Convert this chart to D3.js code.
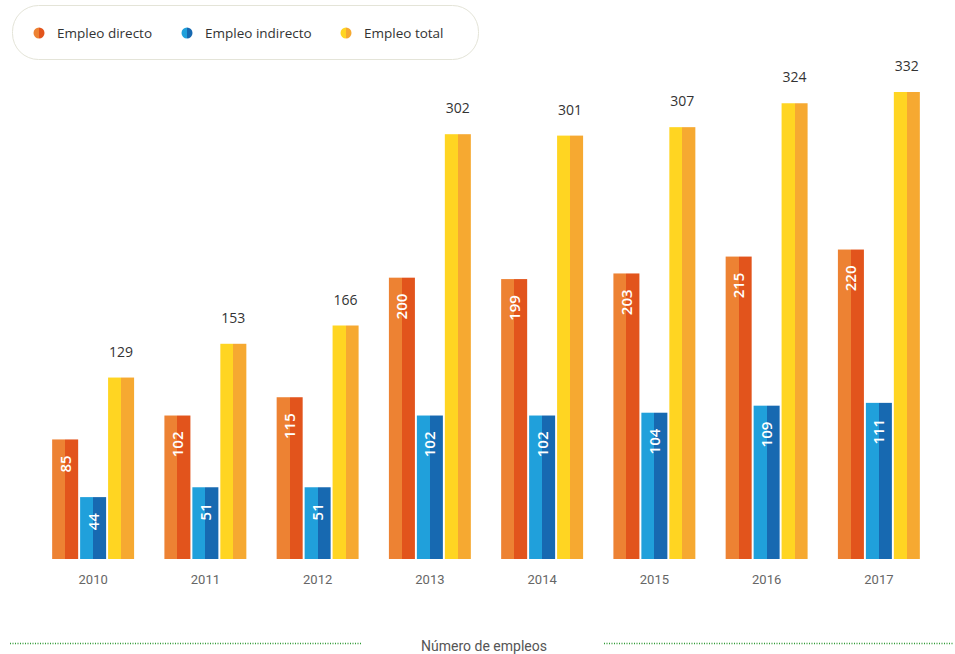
<!DOCTYPE html>
<html>
<head>
<meta charset="utf-8">
<script src="https://cdn.jsdelivr.net/npm/d3@7"></script>
<style>
  html, body { margin: 0; padding: 0; background: #fff; }
  svg { display: block; font-family: "Open Sans", sans-serif; }
</style>
</head>
<body>
<svg id="chart" width="955" height="654"></svg>
<script>
// Employment figures per year
const years = ["2010", "2011", "2012", "2013", "2014", "2015", "2016", "2017"];
const directo = [85, 102, 115, 200, 199, 203, 215, 220];
const indirecto = [44, 51, 51, 102, 102, 104, 109, 111];
const total = [129, 153, 166, 302, 301, 307, 324, 332];
const seriesNames = ["Empleo directo", "Empleo indirecto", "Empleo total"];
const seriesValues = [directo, indirecto, total];
// light / dark halves for each series
const seriesColors = [
  ["#ED8233", "#E2541C"],
  ["#20A0DB", "#1769B1"],
  ["#FFD522", "#F6A931"]
];
const axisTitle = "Número de empleos";

const svg = d3.select("#chart");
const defs = svg.append("defs");

seriesColors.forEach((c, i) => {
  const g = defs.append("linearGradient")
    .attr("id", "grad" + i)
    .attr("x1", 0).attr("x2", 1).attr("y1", 0).attr("y2", 0);
  g.append("stop").attr("offset", "50%").attr("stop-color", c[0]);
  g.append("stop").attr("offset", "50%").attr("stop-color", c[1]);
});

const baseline = 559;
const y = d3.scaleLinear().domain([0, 332]).range([baseline, 92]);
const x0 = d3.scaleBand().domain(years).range([37, 935])
  .paddingInner(0.27).paddingOuter(0.135);
const x1 = d3.scaleBand().domain(d3.range(3)).range([0, x0.bandwidth()])
  .paddingInner(0.07).paddingOuter(0);

const rows = years.map((yr, i) => ({
  year: yr,
  vals: seriesValues.map((s, k) => ({ k, v: s[i] }))
}));

const groups = svg.append("g").selectAll("g")
  .data(rows).join("g")
  .attr("transform", d => `translate(${x0(d.year)},0)`);

groups.selectAll("rect")
  .data(d => d.vals).join("rect")
  .attr("x", d => x1(d.k))
  .attr("y", d => y(d.v))
  .attr("width", x1.bandwidth())
  .attr("height", d => baseline - y(d.v))
  .attr("fill", d => `url(#grad${d.k})`);

// rotated labels inside the direct / indirect bars
groups.selectAll("text.inner")
  .data(d => d.vals.filter(e => e.k < 2)).join("text")
  .attr("class", "inner")
  .attr("transform", d => `translate(${x1(d.k) + x1.bandwidth() / 2 + 5.5},${y(d.v) + 16}) rotate(-90)`)
  .attr("text-anchor", "end")
  .attr("font-size", 15)
  .attr("font-weight", 600)
  .attr("fill", "#fff")
  .text(d => d.v);

// value labels above the total bars
groups.selectAll("text.top")
  .data(d => d.vals.filter(e => e.k === 2)).join("text")
  .attr("class", "top")
  .attr("x", d => x1(d.k) + x1.bandwidth() / 2)
  .attr("y", d => y(d.v) - 21)
  .attr("text-anchor", "middle")
  .attr("font-size", 14)
  .attr("fill", "#333")
  .text(d => d.v);

// x axis
const xAxis = svg.append("g")
  .attr("transform", `translate(0,${baseline})`)
  .call(d3.axisBottom(x0).tickSize(0).tickPadding(16));
xAxis.select(".domain").remove();
xAxis.selectAll("text")
  .attr("font-family", "Roboto, sans-serif")
  .attr("font-size", 13)
  .attr("fill", "#666");

// legend
const legend = svg.append("g");
legend.append("rect")
  .attr("x", 12.5).attr("y", 5.5)
  .attr("width", 466).attr("height", 54)
  .attr("rx", 26).attr("ry", 26)
  .attr("fill", "#fff")
  .attr("stroke", "#e4e4d8")
  .attr("stroke-width", 1);
const legendX = [39, 187, 346];
seriesNames.forEach((name, i) => {
  const it = legend.append("g").attr("transform", `translate(${legendX[i]},33)`);
  it.append("circle").attr("r", 5.5).attr("fill", `url(#grad${i})`);
  it.append("text")
    .attr("x", 18).attr("y", 5)
    .attr("font-size", 13.5)
    .attr("fill", "#333")
    .text(name);
});

// bottom axis title with dotted rules
const titleY = 646;
svg.append("text")
  .attr("x", 484).attr("y", titleY + 5)
  .attr("text-anchor", "middle")
  .attr("font-family", "Roboto, sans-serif")
  .attr("font-size", 14)
  .attr("fill", "#555")
  .text(axisTitle);
[[10, 362], [604, 953]].forEach(([a, b]) => {
  svg.append("line")
    .attr("x1", a).attr("x2", b)
    .attr("y1", 643.5).attr("y2", 643.5)
    .attr("stroke", "#2f9a35")
    .attr("stroke-width", 1.6)
    .attr("stroke-dasharray", "1,1.5");
});
</script>
</body>
</html>
